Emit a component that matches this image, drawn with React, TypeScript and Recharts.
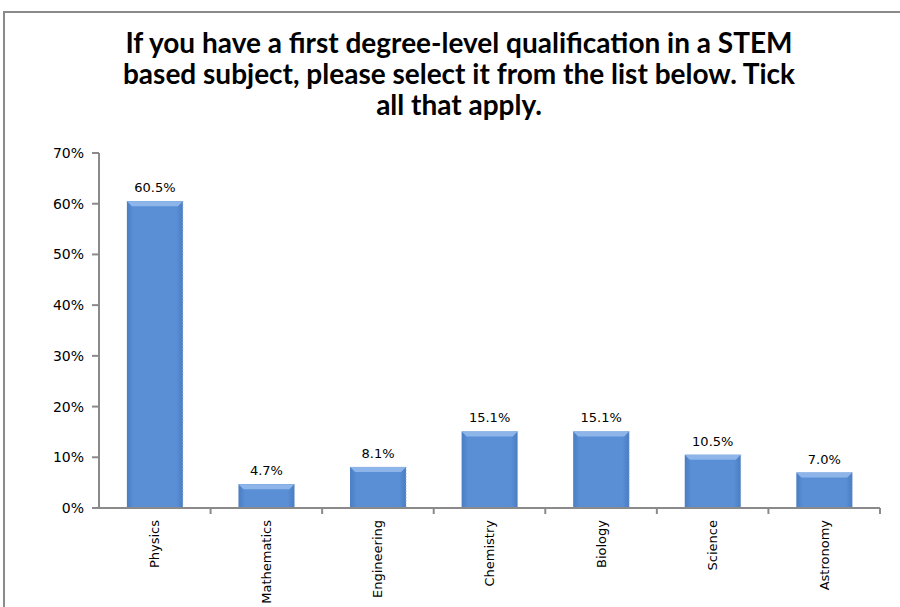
import { BarChart, Bar, XAxis, YAxis, LabelList } from 'recharts';

const subjects = ['Physics', 'Mathematics', 'Engineering', 'Chemistry', 'Biology', 'Science', 'Astronomy'];
const shares = [60.5, 4.7, 8.1, 15.1, 15.1, 10.5, 7.0];
const yTicks = [0, 10, 20, 30, 40, 50, 60, 70];
const titleLines = [
  'If you have a first degree-level qualification in a STEM',
  'based subject, please select it from the list below. Tick',
  'all that apply.',
];

const data = subjects.map((name, i) => ({ name, value: shares[i] }));

const AXIS_GREY = '#8a8a8a';
const FONT = '"DejaVu Sans", Verdana, sans-serif';

// bar with a lighter bevel on top and darker sides
const BevelBar = (props: any) => {
  const { x, y, width, height } = props;
  if (!height || height <= 0) return null;
  const bevel = Math.min(5, height / 2);
  return (
    <g>
      <rect x={x} y={y} width={width} height={height} fill="url(#barFill)" />
      <polygon
        points={`${x},${y} ${x + width},${y} ${x + width - bevel},${y + bevel} ${x + bevel},${y + bevel}`}
        fill="#8db5ea"
      />
      <line x1={x + width} y1={y} x2={x + width} y2={y + height} stroke="#9bb3d4" strokeDasharray="1 2" />
    </g>
  );
};

const SubjectTick = (props: any) => {
  const { x, y, payload } = props;
  const half = payload.offset ?? 0;
  return (
    <g>
      <line x1={x + half} y1={y - 8} x2={x + half} y2={y - 2} stroke={AXIS_GREY} strokeWidth={2} />
      <text
        x={x}
        y={y + 4}
        transform={`rotate(-90, ${x}, ${y + 4})`}
        textAnchor="end"
        dominantBaseline="central"
        fontSize={13}
        fontFamily={FONT}
        fill="#000"
      >
        {payload.value}
      </text>
    </g>
  );
};

export default function App() {
  return (
    <div style={{ position: 'absolute', left: 0, top: 0, width: 900, height: 607, overflow: 'hidden', background: '#fff' }}>
      <div
        style={{
          position: 'absolute',
          left: 3,
          top: 11,
          width: 1000,
          height: 1000,
          borderLeft: `2px solid ${AXIS_GREY}`,
          borderTop: `2px solid ${AXIS_GREY}`,
        }}
      />
      <div
        style={{
          position: 'absolute',
          left: 30,
          width: 858,
          top: 27,
          textAlign: 'center',
          fontFamily: 'Lato, "Open Sans", sans-serif',
          fontWeight: 700,
          fontSize: 28,
          lineHeight: '31px',
          color: '#000',
        }}
      >
        {titleLines.map((t) => (
          <div key={t}>{t}</div>
        ))}
      </div>
      <div style={{ position: 'absolute', left: 0, top: 0 }}>
        <BarChart width={900} height={607} data={data} margin={{ top: 153, right: 20, bottom: 0, left: 0 }} barCategoryGap="25%">
          <defs>
            <linearGradient id="barFill" x1="0" y1="0" x2="1" y2="0">
              <stop offset="0%" stopColor="#4a7dc2" />
              <stop offset="12%" stopColor="#5a8fd6" />
              <stop offset="88%" stopColor="#5a8fd6" />
              <stop offset="100%" stopColor="#4a7dc2" />
            </linearGradient>
          </defs>
          <XAxis
            dataKey="name"
            height={99}
            interval={0}
            tickLine={false}
            axisLine={{ stroke: AXIS_GREY, strokeWidth: 2 }}
            tick={<SubjectTick />}
          />
          <YAxis
            width={99}
            domain={[0, 70]}
            ticks={yTicks}
            tickFormatter={(v: number) => `${v}%`}
            tickSize={7}
            tickMargin={8}
            tickLine={{ stroke: AXIS_GREY, strokeWidth: 2 }}
            axisLine={{ stroke: AXIS_GREY, strokeWidth: 2 }}
            tick={{ fontSize: 14, fontFamily: FONT, fill: '#000' }}
          />
          <Bar dataKey="value" isAnimationActive={false} shape={<BevelBar />}>
            <LabelList
              dataKey="value"
              position="top"
              offset={9}
              formatter={(v: any) => `${Number(v).toFixed(1)}%`}
              style={{ fontSize: 13, fontFamily: FONT, fill: '#000' }}
            />
          </Bar>
        </BarChart>
      </div>
    </div>
  );
}
